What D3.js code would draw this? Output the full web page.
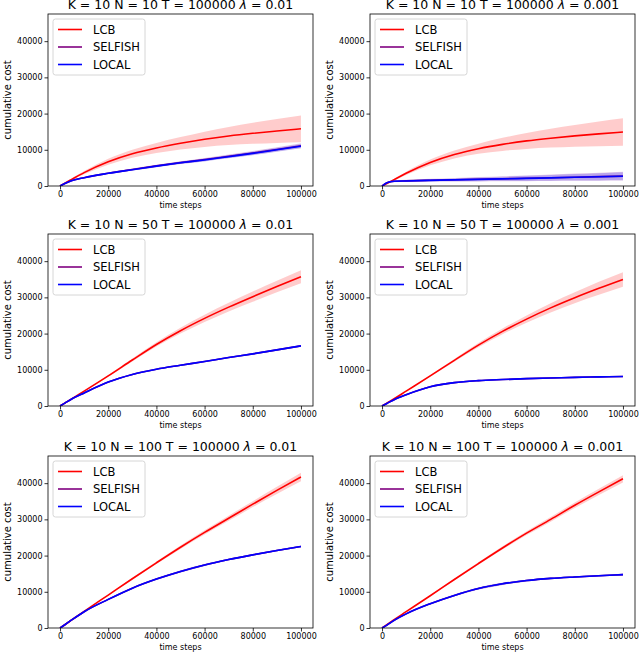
<!DOCTYPE html>
<html>
<head>
<meta charset="utf-8">
<script src="https://cdn.jsdelivr.net/npm/d3@7"></script>
<style>
  body { margin: 0; background: #fff; }
  text { font-family: "DejaVu Sans", sans-serif; fill: #000; }
</style>
</head>
<body>
<div id="chart"></div>
<script>
// === Data ===
const timeSteps = [0, 2000, 5000, 10000, 20000, 30000, 40000, 50000, 60000, 70000, 80000, 90000, 100000];
const xTicks = [0, 20000, 40000, 60000, 80000, 100000];
const yTicks = [0, 10000, 20000, 30000, 40000];
const seriesNames = ["LCB", "SELFISH", "LOCAL"];
const agentCounts = [10, 10, 50, 50, 100, 100];
const lambdas = ["0.01", "0.001", "0.01", "0.001", "0.01", "0.001"];

// N = 10, lambda = 0.01
const lcb_n10_a = [0, 800, 1900, 3700, 6700, 8900, 10500, 11800, 12900, 13800, 14550, 15200, 15800];
const lcbBand_n10_a = [0, 100, 250, 450, 800, 1100, 1400, 1700, 2100, 2500, 2900, 3300, 3700];
const selfish_n10_a = [0, 700, 1500, 2300, 3500, 4550, 5550, 6450, 7300, 8200, 9100, 10100, 11100];
const selfishBand_n10_a = [0, 50, 100, 150, 250, 300, 350, 400, 450, 500, 550, 600, 700];
const local_n10_a = [0, 700, 1500, 2300, 3500, 4500, 5500, 6400, 7200, 8100, 9000, 10000, 11000];
const localBand_n10_a = [0, 50, 100, 150, 200, 250, 300, 350, 400, 450, 500, 550, 600];

// N = 10, lambda = 0.001
const lcb_n10_b = [0, 700, 1750, 3500, 6500, 8700, 10300, 11500, 12450, 13200, 13850, 14400, 14900];
const lcbBand_n10_b = [0, 100, 250, 450, 800, 1100, 1400, 1800, 2200, 2600, 3000, 3400, 3800];
const selfish_n10_b = [0, 900, 1300, 1420, 1580, 1720, 1860, 2000, 2130, 2280, 2430, 2580, 2730];
const selfishBand_n10_b = [0, 150, 250, 300, 400, 500, 600, 700, 800, 900, 1000, 1100, 1200];
const local_n10_b = [0, 900, 1300, 1400, 1560, 1700, 1840, 1970, 2100, 2250, 2400, 2550, 2700];
const localBand_n10_b = [0, 100, 200, 250, 300, 400, 500, 600, 700, 800, 900, 1000, 1100];

// N = 50, lambda = 0.01
const lcb_n50_a = [0, 800, 2050, 4100, 8300, 12700, 17000, 20800, 24200, 27300, 30200, 33000, 35700];
const lcbBand_n50_a = [0, 20, 50, 100, 250, 400, 600, 800, 1000, 1200, 1400, 1600, 1800];
const selfish_n50_a = [0, 800, 2000, 3600, 6600, 8700, 10150, 11250, 12300, 13400, 14400, 15500, 16600];
const selfishBand_n50_a = [0, 20, 40, 80, 150, 150, 150, 150, 150, 150, 150, 150, 150];
const local_n50_a = [0, 800, 2000, 3600, 6600, 8700, 10150, 11250, 12300, 13400, 14400, 15500, 16600];
const localBand_n50_a = [0, 20, 40, 80, 150, 150, 150, 150, 150, 150, 150, 150, 150];

// N = 50, lambda = 0.001
const lcb_n50_b = [0, 800, 2000, 4100, 8300, 12600, 16800, 20600, 24000, 27100, 29900, 32500, 34950];
const lcbBand_n50_b = [0, 20, 50, 100, 250, 400, 600, 800, 1000, 1300, 1500, 1800, 2000];
const selfish_n50_b = [0, 700, 1750, 3100, 5300, 6450, 7000, 7300, 7550, 7750, 7900, 8050, 8150];
const selfishBand_n50_b = [0, 20, 50, 100, 200, 200, 150, 120, 100, 100, 100, 100, 100];
const local_n50_b = [0, 700, 1750, 3100, 5300, 6450, 7000, 7300, 7550, 7750, 7900, 8050, 8150];
const localBand_n50_b = [0, 20, 50, 100, 200, 200, 150, 120, 100, 100, 100, 100, 100];

// N = 100, lambda = 0.01
const lcb_n100_a = [0, 900, 2300, 4600, 9100, 13600, 18000, 22300, 26400, 30300, 34200, 38000, 41700];
const lcbBand_n100_a = [0, 10, 30, 60, 150, 250, 350, 450, 600, 700, 800, 1000, 1200];
const selfish_n100_a = [0, 900, 2300, 4500, 7900, 11000, 13500, 15600, 17400, 18900, 20200, 21400, 22500];
const selfishBand_n100_a = [0, 10, 30, 60, 150, 200, 250, 250, 250, 200, 200, 200, 200];
const local_n100_a = [0, 900, 2300, 4500, 7900, 11000, 13500, 15600, 17400, 18900, 20200, 21400, 22500];
const localBand_n100_a = [0, 10, 30, 60, 150, 200, 250, 250, 250, 200, 200, 200, 200];

// N = 100, lambda = 0.001
const lcb_n100_b = [0, 900, 2300, 4500, 8900, 13400, 17800, 22100, 26200, 30000, 33900, 37600, 41200];
const lcbBand_n100_b = [0, 10, 30, 60, 150, 250, 350, 450, 550, 650, 750, 850, 1000];
const selfish_n100_b = [0, 800, 2100, 3900, 6700, 9000, 10900, 12200, 13100, 13700, 14100, 14450, 14750];
const selfishBand_n100_b = [0, 10, 30, 60, 150, 250, 300, 300, 250, 200, 200, 200, 200];
const local_n100_b = [0, 800, 2100, 3900, 6700, 9000, 10900, 12200, 13100, 13700, 14100, 14450, 14750];
const localBand_n100_b = [0, 10, 30, 60, 150, 250, 300, 300, 250, 200, 200, 200, 200];

const panels = [
  [[lcb_n10_a, lcbBand_n10_a], [selfish_n10_a, selfishBand_n10_a], [local_n10_a, localBand_n10_a]],
  [[lcb_n10_b, lcbBand_n10_b], [selfish_n10_b, selfishBand_n10_b], [local_n10_b, localBand_n10_b]],
  [[lcb_n50_a, lcbBand_n50_a], [selfish_n50_a, selfishBand_n50_a], [local_n50_a, localBand_n50_a]],
  [[lcb_n50_b, lcbBand_n50_b], [selfish_n50_b, selfishBand_n50_b], [local_n50_b, localBand_n50_b]],
  [[lcb_n100_a, lcbBand_n100_a], [selfish_n100_a, selfishBand_n100_a], [local_n100_a, localBand_n100_a]],
  [[lcb_n100_b, lcbBand_n100_b], [selfish_n100_b, selfishBand_n100_b], [local_n100_b, localBand_n100_b]]
];

// === Layout ===
const colors = ["#ff0000", "#800080", "#0000ff"];
const colLeft = [48, 370];
const rowTop = [14, 234, 456];
const pw = 265, ph = 172;

const svg = d3.select("#chart")
  .append("svg")
  .attr("width", 640)
  .attr("height", 652)
  .style("background-color", "#fff");

const x = d3.scaleLinear().domain([-5000, 105000]).range([0, pw]);
const y = d3.scaleLinear().domain([0, 47500]).range([ph, 0]);

const line = d3.line()
  .x((d) => x(d[0]))
  .y((d) => y(d[1]))
  .curve(d3.curveMonotoneX);

const area = d3.area()
  .x((d) => x(d[0]))
  .y0((d) => y(d[1] - d[2]))
  .y1((d) => y(d[1] + d[2]))
  .curve(d3.curveMonotoneX);

svg.append("defs")
  .append("clipPath")
  .attr("id", "plotClip")
  .append("rect")
  .attr("width", pw)
  .attr("height", ph);

panels.forEach((series, i) => {
  const left = colLeft[i % 2];
  const top = rowTop[Math.floor(i / 2)];
  const g = svg.append("g").attr("transform", `translate(${left},${top})`);

  // === Bands + lines ===
  const plot = g.append("g").attr("clip-path", "url(#plotClip)");
  series.forEach(([mean, band], s) => {
    const pts = timeSteps.map((t, k) => [t, mean[k], band[k]]);
    plot.append("path")
      .attr("d", area(pts))
      .attr("fill", colors[s])
      .attr("fill-opacity", 0.2)
      .attr("stroke", "none");
    plot.append("path")
      .attr("d", line(pts))
      .attr("fill", "none")
      .attr("stroke", colors[s])
      .attr("stroke-width", 1.6);
  });

  // === Axes ===
  const xAxis = g.append("g")
    .attr("transform", `translate(0,${ph})`)
    .call(d3.axisBottom(x).tickValues(xTicks).tickSize(3.5).tickPadding(2).tickFormat(d3.format("d")));
  const yAxis = g.append("g")
    .call(d3.axisLeft(y).tickValues(yTicks).tickSize(3.5).tickPadding(2).tickFormat(d3.format("d")));
  [xAxis, yAxis].forEach((a) => {
    a.select(".domain").remove();
    a.selectAll("line").attr("stroke", "#000").attr("stroke-width", 0.8);
    a.selectAll("text")
      .style("font-family", "'DejaVu Sans', sans-serif")
      .style("font-size", "8px")
      .attr("fill", "#000");
  });

  g.append("rect")
    .attr("width", pw)
    .attr("height", ph)
    .attr("fill", "none")
    .attr("stroke", "#000")
    .attr("stroke-width", 0.8);

  // === Labels ===
  g.append("text")
    .attr("x", pw / 2)
    .attr("y", ph + 22)
    .attr("text-anchor", "middle")
    .style("font-size", "8px")
    .text("time steps");

  g.append("text")
    .attr("transform", `translate(-37,${ph / 2}) rotate(-90)`)
    .attr("text-anchor", "middle")
    .style("font-size", "10px")
    .text("cumulative cost");

  const title = g.append("text")
    .attr("x", pw / 2)
    .attr("y", -5)
    .attr("text-anchor", "middle")
    .style("font-size", "12.5px");
  title.append("tspan").text(`K = 10 N = ${agentCounts[i]} T = 100000 `);
  title.append("tspan").style("font-style", "italic").text("λ");
  title.append("tspan").text(` = ${lambdas[i]}`);

  // === Legend ===
  const lg = g.append("g").attr("transform", "translate(5,5)");
  lg.append("rect")
    .attr("width", 92)
    .attr("height", 56)
    .attr("rx", 2.5)
    .attr("fill", "#fff")
    .attr("fill-opacity", 0.8)
    .attr("stroke", "#cccccc")
    .attr("stroke-width", 0.8);
  seriesNames.forEach((name, s) => {
    const cy = 10.5 + s * 17.5;
    lg.append("line")
      .attr("x1", 5)
      .attr("x2", 29)
      .attr("y1", cy)
      .attr("y2", cy)
      .attr("stroke", colors[s])
      .attr("stroke-width", 1.6);
    lg.append("text")
      .attr("x", 40)
      .attr("y", cy + 4.2)
      .style("font-size", "11.5px")
      .text(name);
  });
});
</script>
</body>
</html>
